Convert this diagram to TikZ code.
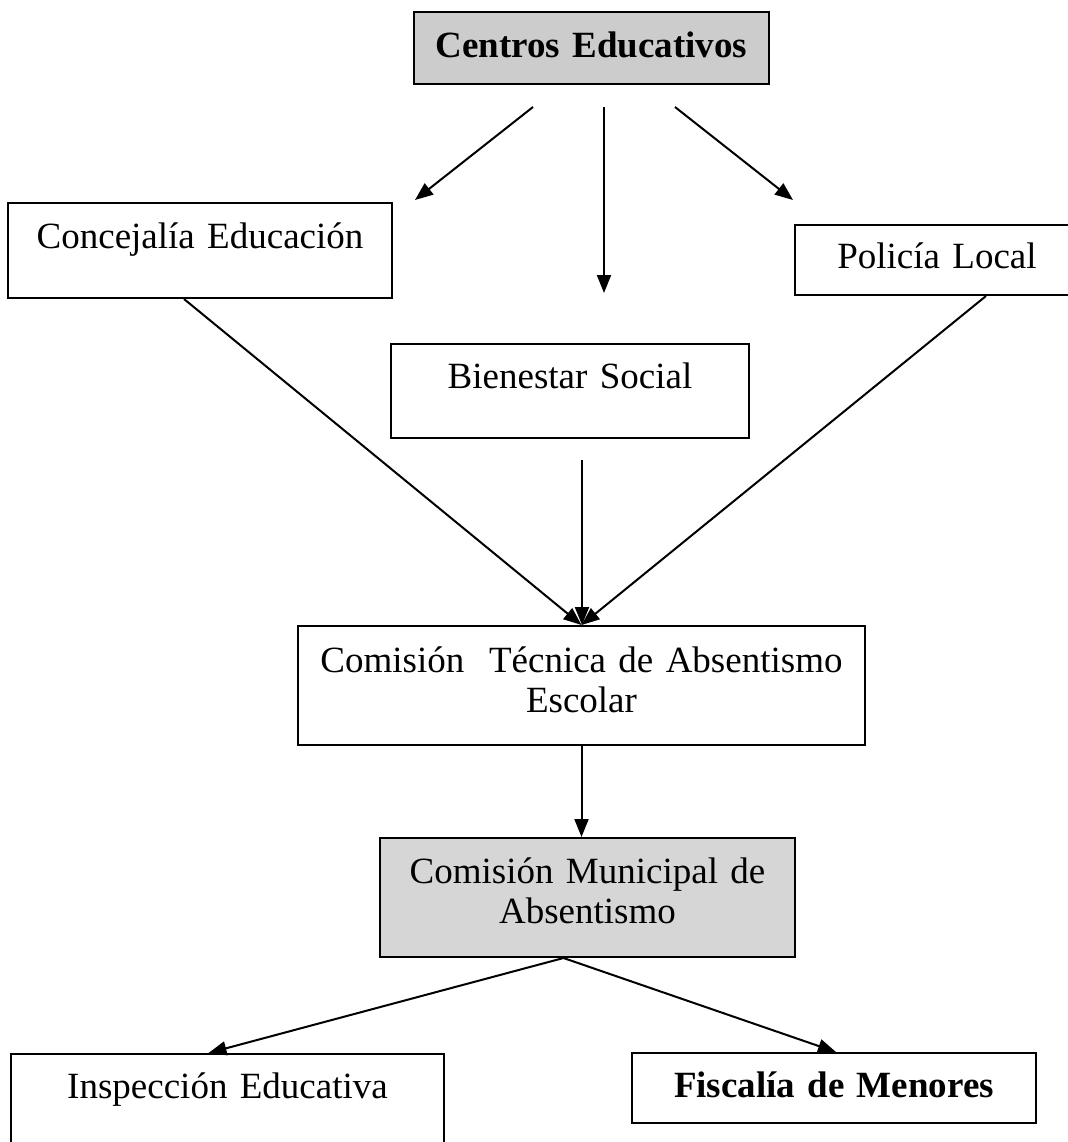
\documentclass[tikz,border=0pt]{standalone}
\usepackage{fontspec}
\setmainfont{Liberation Serif}
\usetikzlibrary{arrows.meta,calc}

\tikzset{
  caja/.style={draw, line width=1pt, inner sep=0pt, align=center, anchor=north west,
    font=\fontsize{18.5}{20}\selectfont},
  sombra/.style={caja, fill=black!20},
  flecha/.style={-{Triangle[length=9pt,width=7pt]}, line width=1pt}
}

\begin{document}
\begin{tikzpicture}[x=0.5pt,y=-0.5pt]
\useasboundingbox (0,0) rectangle (1067,1142);

\node[sombra, text width=177.5pt, text height=22.5pt, text depth=13.5pt] (centros) at (413,11) {\bfseries Centros Educativos};
\node[caja, text width=192pt, text height=22.5pt, text depth=25pt] (concejalia) at (7,202) {Concejalía Educación};
\node[caja, text width=142pt, text height=21.5pt, text depth=13.5pt] (policia) at (794,224) {Policía Local};
\node[caja, text width=179pt, text height=22pt, text depth=25pt] (bienestar) at (390,343) {Bienestar Social};
\node[caja, text width=283.5pt, text height=23pt, text depth=36.5pt] (tecnica) at (297,625) {Comisión\ \ Técnica de Absentismo\\Escolar};
\node[sombra, fill=black!16, text width=207.5pt, text height=22.5pt, text depth=37pt] (municipal) at (379,837) {Comisión Municipal de\\Absentismo};
\node[caja, text width=216.5pt, text height=22pt, text depth=26.5pt] (inspeccion) at (10,1053) {Inspección Educativa};
\node[caja, text width=202pt, text height=22pt, text depth=13pt] (fiscalia) at (631,1052) {\bfseries Fiscalía de Menores};

\coordinate (ci) at (533,107);
\coordinate (cc) at (604,107);
\coordinate (cd) at (675,107);
\coordinate (ti) at (415,200);
\coordinate (tc) at (604,293);
\coordinate (td) at (793,200);
\coordinate (bs) at (582,460);

\draw[flecha] (ci) -- (ti);
\draw[flecha] (cc) -- (tc);
\draw[flecha] (cd) -- (td);

\draw[flecha] ($(concejalia.south)+(-16,0)$) -- (tecnica.north);
\draw[flecha] (bs) -- (bs |- tecnica.north);
\draw[flecha] ($(policia.south)+(49,0)$) -- (tecnica.north);

\draw[flecha] (tecnica.south) -- (tecnica.south |- municipal.north);

\draw[flecha] ($(municipal.south)+(-24,0)$) -- ($(inspeccion.north)+(-19,0)$);
\draw[flecha] ($(municipal.south)+(-24,0)$) -- ($(fiscalia.north)+(2,0)$);
\end{tikzpicture}
\end{document}
